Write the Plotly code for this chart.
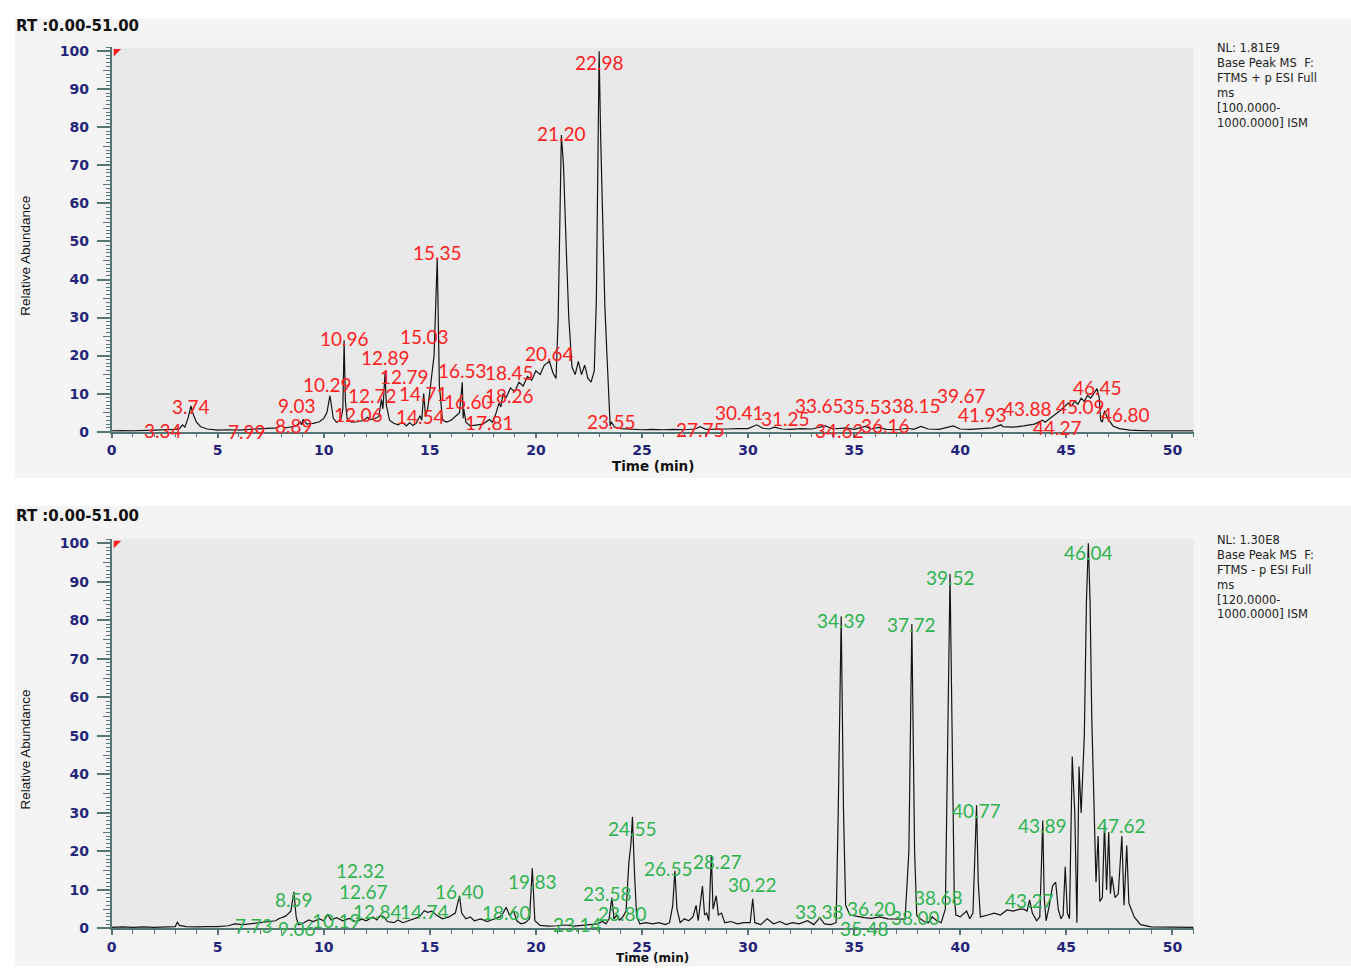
import plotly.graph_objects as go

# ---------------------------------------------------------------------------
# Base peak chromatograms (relative abundance vs retention time, minutes)
# ---------------------------------------------------------------------------

# Positive-mode ESI base peak chromatogram
pos_trace = [
    (0.0, 0.2), (0.5, 0.3), (1.0, 0.2), (1.5, 0.3), (2.0, 0.3), (2.5, 0.4),
    (3.0, 0.6), (3.2, 0.8), (3.34, 1.8), (3.45, 1.2), (3.6, 3.5), (3.74, 6.8),
    (3.85, 4.5), (4.0, 2.5), (4.2, 1.3), (4.5, 0.7), (5.0, 0.4), (5.5, 0.5),
    (6.0, 0.4), (6.5, 0.6), (7.0, 0.8), (7.5, 0.9), (7.8, 1.0), (7.99, 1.6),
    (8.2, 1.0), (8.5, 1.3), (8.7, 1.5), (8.89, 2.6), (8.95, 1.8), (9.03, 3.2),
    (9.2, 2.0), (9.5, 2.2), (9.8, 2.6), (10.0, 3.5), (10.15, 5.0), (10.29, 9.5),
    (10.45, 3.5), (10.6, 2.5), (10.8, 3.0), (10.9, 6.0), (10.96, 24.0), (11.02, 8.0),
    (11.1, 3.5), (11.3, 2.5), (11.6, 2.6), (11.9, 3.0), (12.06, 3.8), (12.2, 3.2),
    (12.4, 3.4), (12.6, 4.0), (12.72, 8.5), (12.79, 6.0), (12.89, 15.5), (12.95, 7.0),
    (13.1, 3.0), (13.3, 2.2), (13.5, 1.8), (13.7, 2.5), (13.9, 1.5), (14.05, 2.4),
    (14.2, 1.6), (14.35, 2.2), (14.54, 4.2), (14.62, 3.0), (14.71, 10.0), (14.8, 4.0),
    (14.9, 6.0), (15.03, 12.0), (15.2, 20.0), (15.35, 45.7), (15.45, 12.0), (15.6, 3.0),
    (15.8, 2.5), (16.0, 3.0), (16.2, 4.0), (16.4, 5.0), (16.53, 13.0), (16.57, 3.5),
    (16.6, 6.0), (16.7, 2.5), (16.9, 1.5), (17.2, 1.8), (17.5, 2.0), (17.81, 3.2),
    (17.95, 2.5), (18.1, 4.5), (18.26, 7.5), (18.35, 6.5), (18.45, 10.0), (18.6, 9.0),
    (18.8, 11.5), (19.0, 10.5), (19.2, 13.0), (19.4, 12.0), (19.6, 14.5), (19.8, 13.5),
    (20.0, 16.0), (20.2, 15.0), (20.4, 17.5), (20.64, 18.5), (20.8, 15.5), (20.95, 14.0),
    (21.05, 30.0), (21.2, 78.0), (21.3, 70.0), (21.45, 45.0), (21.55, 30.0), (21.7, 17.0),
    (21.85, 15.0), (22.0, 18.5), (22.15, 15.0), (22.3, 17.5), (22.45, 14.0), (22.6, 13.0),
    (22.75, 16.0), (22.85, 35.0), (22.98, 100.0), (23.05, 78.0), (23.15, 55.0), (23.25, 33.0),
    (23.35, 20.0), (23.45, 5.0), (23.5, 1.5), (23.55, 2.6), (23.7, 1.2), (24.0, 0.8),
    (24.5, 0.7), (25.0, 0.5), (25.5, 0.6), (26.0, 0.5), (26.5, 0.6), (27.0, 0.5),
    (27.5, 0.7), (27.75, 1.3), (28.0, 0.6), (28.5, 0.6), (29.0, 0.7), (29.5, 0.8),
    (30.0, 0.8), (30.41, 1.8), (30.7, 0.9), (31.0, 0.7), (31.25, 1.2), (31.6, 0.7),
    (32.0, 0.6), (32.5, 0.8), (33.0, 0.7), (33.65, 1.5), (34.0, 0.7), (34.62, 1.0),
    (35.0, 0.6), (35.53, 1.4), (35.8, 0.7), (36.16, 1.1), (36.5, 0.6), (37.0, 0.5),
    (37.53, 0.9), (37.8, 0.6), (38.15, 1.4), (38.5, 0.7), (39.0, 0.6), (39.67, 1.5),
    (40.0, 0.7), (40.5, 0.6), (41.0, 0.8), (41.5, 1.0), (41.93, 1.8), (42.01, 1.3),
    (42.5, 1.2), (43.0, 1.5), (43.5, 2.0), (43.88, 3.0), (44.0, 2.5), (44.27, 3.6),
    (44.5, 4.5), (44.7, 5.5), (44.9, 6.5), (45.09, 7.5), (45.25, 6.8), (45.4, 8.0),
    (45.55, 7.2), (45.7, 8.8), (45.85, 8.0), (46.0, 9.5), (46.15, 8.8), (46.3, 10.2),
    (46.45, 11.3), (46.55, 9.0), (46.62, 3.0), (46.7, 2.5), (46.8, 5.5), (46.95, 3.5),
    (47.2, 1.5), (47.5, 0.8), (48.0, 0.4), (48.5, 0.3), (49.0, 0.2), (50.0, 0.2),
    (51.0, 0.2),
]

# Negative-mode ESI base peak chromatogram
neg_trace = [
    (0.0, 0.3), (0.5, 0.4), (1.0, 0.3), (1.5, 0.4), (2.0, 0.3), (2.5, 0.4),
    (3.0, 0.5), (3.1, 1.6), (3.2, 0.8), (3.5, 0.5), (4.0, 0.4), (4.5, 0.5),
    (5.0, 0.5), (5.5, 0.7), (5.8, 1.2), (6.2, 1.0), (6.6, 1.3), (7.0, 1.5),
    (7.3, 1.8), (7.73, 2.0), (7.9, 2.6), (8.2, 3.2), (8.45, 4.5), (8.59, 9.5),
    (8.7, 3.0), (8.8, 1.0), (9.06, 1.5), (9.3, 2.2), (9.5, 1.8), (9.8, 2.5),
    (10.0, 2.0), (10.19, 3.6), (10.35, 2.2), (10.6, 2.8), (10.9, 2.0), (11.2, 2.6),
    (11.5, 1.8), (11.8, 2.4), (12.0, 2.0), (12.32, 3.0), (12.5, 2.2), (12.67, 3.4),
    (12.84, 3.0), (13.0, 1.8), (13.3, 1.5), (13.5, 2.2), (13.73, 1.5), (14.0, 2.0),
    (14.3, 2.5), (14.5, 3.0), (14.74, 4.6), (14.9, 4.2), (15.1, 4.5), (15.3, 3.5),
    (15.6, 2.5), (15.9, 3.0), (16.2, 4.0), (16.4, 8.5), (16.5, 4.0), (16.7, 2.5),
    (16.9, 3.0), (17.1, 2.0), (17.4, 2.5), (17.7, 1.8), (17.9, 2.2), (18.1, 2.5),
    (18.3, 3.0), (18.45, 4.0), (18.6, 5.5), (18.75, 3.5), (18.95, 4.5), (19.1, 2.0),
    (19.3, 1.2), (19.5, 1.5), (19.7, 2.5), (19.83, 15.6), (19.95, 2.0), (20.2, 0.8),
    (20.6, 0.6), (21.0, 0.7), (21.4, 0.9), (21.8, 0.6), (22.2, 0.8), (22.6, 1.0),
    (22.9, 1.2), (23.14, 1.8), (23.3, 1.2), (23.45, 2.5), (23.58, 8.0), (23.68, 2.5),
    (23.8, 3.4), (23.95, 2.2), (24.1, 3.0), (24.25, 4.5), (24.38, 17.0), (24.48, 22.0),
    (24.55, 29.0), (24.65, 14.0), (24.75, 3.0), (24.9, 1.2), (25.2, 1.5), (25.5, 1.2),
    (25.8, 1.5), (26.1, 1.0), (26.3, 1.5), (26.45, 6.0), (26.55, 15.0), (26.65, 5.0),
    (26.8, 1.5), (27.0, 2.5), (27.2, 2.0), (27.4, 3.0), (27.55, 6.0), (27.65, 2.0),
    (27.85, 11.0), (27.95, 3.5), (28.05, 4.0), (28.15, 2.0), (28.27, 19.0), (28.35, 5.0),
    (28.5, 8.5), (28.6, 3.5), (28.75, 4.0), (28.9, 1.5), (29.2, 1.8), (29.5, 1.2),
    (29.8, 1.5), (30.1, 1.5), (30.22, 7.7), (30.32, 1.5), (30.6, 1.0), (30.9, 2.5),
    (31.2, 1.2), (31.5, 1.8), (31.8, 1.0), (32.1, 1.5), (32.4, 1.2), (32.8, 2.0),
    (33.1, 1.0), (33.38, 2.8), (33.6, 1.2), (33.9, 1.0), (34.15, 1.5), (34.25, 30.0),
    (34.39, 81.0), (34.5, 30.0), (34.6, 6.0), (34.8, 3.5), (35.2, 3.0), (35.48, 2.8),
    (35.8, 2.6), (36.2, 3.0), (36.6, 2.5), (37.0, 2.5), (37.4, 2.4), (37.58, 20.0),
    (37.72, 79.0), (37.85, 20.0), (37.95, 3.5), (38.0, 3.0), (38.3, 1.8), (38.5, 1.5),
    (38.68, 3.0), (38.9, 2.0), (39.1, 1.5), (39.3, 5.0), (39.42, 50.0), (39.52, 92.0),
    (39.62, 50.0), (39.72, 8.0), (39.8, 3.5), (40.0, 3.0), (40.3, 4.5), (40.45, 2.5),
    (40.6, 4.0), (40.7, 20.0), (40.77, 32.0), (40.85, 12.0), (40.95, 3.0), (41.3, 3.5),
    (41.6, 4.0), (41.9, 3.5), (42.2, 4.8), (42.5, 4.5), (42.8, 5.0), (43.0, 5.0),
    (43.15, 4.5), (43.27, 7.4), (43.4, 4.0), (43.6, 2.0), (43.75, 3.0), (43.82, 15.0),
    (43.89, 28.0), (43.96, 8.0), (44.05, 2.0), (44.2, 6.0), (44.35, 11.0), (44.5, 12.0),
    (44.62, 5.0), (44.75, 2.5), (44.85, 3.5), (44.95, 16.0), (45.05, 4.0), (45.15, 2.5),
    (45.28, 44.6), (45.4, 30.0), (45.5, 1.5), (45.6, 42.0), (45.7, 30.0), (45.85, 50.0),
    (45.95, 85.0), (46.04, 100.0), (46.12, 85.0), (46.2, 55.0), (46.3, 30.0), (46.4, 12.0),
    (46.5, 24.0), (46.58, 7.0), (46.7, 8.0), (46.8, 27.0), (46.9, 10.0), (47.0, 25.0),
    (47.08, 9.0), (47.15, 13.5), (47.3, 8.0), (47.45, 9.0), (47.62, 24.0), (47.72, 6.0),
    (47.85, 21.5), (47.95, 6.6), (48.2, 3.0), (48.5, 1.0), (49.0, 0.4), (50.0, 0.3),
    (51.0, 0.3),
]

# Labelled retention times (min)
pos_peak_rt = [3.34, 3.74, 7.99, 8.89, 9.03, 10.29, 10.96, 12.06, 12.72, 12.79,
               12.89, 14.05, 14.54, 14.71, 15.03, 15.35, 16.53, 16.60, 17.81, 18.26,
               18.45, 20.64, 21.20, 22.98, 23.55, 27.75, 30.41, 31.25, 33.65, 34.62,
               35.53, 36.16, 37.53, 38.15, 39.67, 41.93, 42.01, 43.88, 44.27, 45.09,
               46.45, 46.80]
neg_peak_rt = [7.73, 8.59, 9.06, 10.19, 12.32, 12.67, 12.84, 13.73, 14.74, 16.40,
               18.60, 19.83, 23.14, 23.58, 23.80, 24.55, 26.55, 28.27, 30.22, 33.38,
               34.39, 35.48, 36.20, 37.72, 38.00, 38.68, 39.52, 40.77, 43.27, 43.89,
               46.04, 47.62]

# Scan headers shown beside each chromatogram
pos_header = ["NL: 1.81E9", "Base Peak MS  F:", "FTMS + p ESI Full", "ms",
              "[100.0000-", "1000.0000] ISM"]
neg_header = ["NL: 1.30E8", "Base Peak MS  F:", "FTMS - p ESI Full", "ms",
              "[120.0000-", "1000.0000] ISM"]

x_ticks = list(range(0, 51, 5))
y_ticks = list(range(0, 101, 10))
y_mid_ticks = list(range(5, 100, 10))

# ---------------------------------------------------------------------------
# Label placement: vertical level (% units) and small sideways nudge (min)
# used to keep crowded retention-time labels readable.
# ---------------------------------------------------------------------------
pos_label_level = [0.3, 6.5, 0.0, 1.5, 7.0, 12.5, 24.5, 4.5, 9.5, 14.5,
                   19.5, -0.5, 4.0, 10.0, 25.0, 47.0, 16.0, 8.0, 2.5, 9.5,
                   15.5, 20.5, 78.4, 97.0, 2.6, 0.5, 5.0, 3.4, 7.0, 0.3,
                   6.5, 1.5, -0.5, 7.0, 9.6, 4.5, -0.5, 6.0, 1.0, 6.5,
                   11.5, 4.5]
pos_label_nudge = [-0.9, 0.0, -1.6, -0.3, -0.3, -0.1, 0.0, -0.4, -0.4, 1.0,
                   0.0, -0.6, 0.0, 0.0, -0.3, 0.0, 0.0, 0.2, 0.0, 0.5,
                   0.3, 0.0, 0.0, 0.0, 0.0, 0.0, -0.8, 0.5, -0.3, -0.3,
                   0.1, 0.3, 0.6, -0.2, 0.4, -0.9, 0.3, -0.7, 0.3, 0.6,
                   0.0, 1.0]
neg_label_level = [0.8, 7.4, 0.0, 2.0, 15.0, 9.5, 4.5, -0.5, 4.5, 9.5,
                   4.1, 12.3, 1.0, 9.0, 4.0, 26.0, 15.6, 17.4, 11.3, 4.4,
                   80.0, 0.0, 5.2, 79.0, 2.8, 8.0, 91.0, 30.5, 7.2, 26.7,
                   97.7, 26.7]
neg_label_nudge = [-1.0, 0.0, -0.3, 0.4, -0.6, -0.8, -0.3, 0.3, 0.0, 0.0,
                   0.0, 0.0, -1.2, -0.2, 0.3, 0.0, -0.3, 0.3, 0.0, 0.0,
                   0.0, 0.0, -0.4, 0.0, -0.1, 0.3, 0.0, 0.0, 0.0, 0.0,
                   0.0, 0.0]

W, H = 1351, 974
AXIS_COL = "#557474"
TICK_FONT = dict(family="DejaVu Sans", size=14, color="#24247a", weight="bold")
LABEL_FONT = "Lato, Open Sans, sans-serif"


def fx(p):
    return p / W


def fy(p):
    return 1 - p / H


fig = go.Figure()

pt, pa = zip(*pos_trace)
nt, na = zip(*neg_trace)
fig.add_trace(go.Scatter(x=pt, y=pa, mode="lines", xaxis="x", yaxis="y",
                         line=dict(color="#141414", width=1.2), hoverinfo="skip",
                         showlegend=False))
fig.add_trace(go.Scatter(x=nt, y=na, mode="lines", xaxis="x2", yaxis="y2",
                         line=dict(color="#141414", width=1.2), hoverinfo="skip",
                         showlegend=False))
# empty traces that carry the medium (every 5 %) tick axes
fig.add_trace(go.Scatter(x=[], y=[], xaxis="x", yaxis="y3", showlegend=False))
fig.add_trace(go.Scatter(x=[], y=[], xaxis="x2", yaxis="y4", showlegend=False))

x_dom = [fx(107), fx(1193)]
top_dom = [fy(433), fy(44)]
bot_dom = [fy(936), fy(542)]


def x_axis(anchor):
    return dict(domain=x_dom, anchor=anchor, range=[0, 51], showline=True,
                linecolor=AXIS_COL, linewidth=1.5, ticks="outside",
                tickvals=x_ticks, ticklen=5, tickwidth=1.5, tickcolor=AXIS_COL,
                minor=dict(dtick=1, tick0=0, ticks="outside", ticklen=4,
                           tickwidth=1, tickcolor=AXIS_COL, showgrid=False),
                showgrid=False, zeroline=False, tickfont=TICK_FONT,
                ticklabelstandoff=0)


def y_axis(anchor, dom):
    return dict(domain=dom, anchor=anchor, range=[0, 101], showline=True,
                linecolor=AXIS_COL, linewidth=1.5, ticks="outside",
                tickvals=y_ticks, ticklen=13, tickwidth=1.5, tickcolor=AXIS_COL,
                minor=dict(dtick=1, tick0=0, ticks="outside", ticklen=4,
                           tickwidth=1, tickcolor=AXIS_COL, showgrid=False),
                showgrid=False, zeroline=False, tickfont=TICK_FONT,
                ticklabelstandoff=5)


def y_mid_axis(base, anchor):
    return dict(overlaying=base, anchor=anchor, side="left", range=[0, 101],
                tickvals=y_mid_ticks, ticks="outside", ticklen=8, tickwidth=1.2,
                tickcolor=AXIS_COL, showticklabels=False, showline=False,
                showgrid=False, zeroline=False)


shapes = [
    # panel backgrounds
    dict(type="rect", xref="paper", yref="paper", x0=fx(10), x1=1,
         y0=fy(480), y1=fy(15), fillcolor="#f4f4f4", line_width=0, layer="below"),
    dict(type="rect", xref="paper", yref="paper", x0=fx(10), x1=1,
         y0=fy(974), y1=fy(508), fillcolor="#f4f4f4", line_width=0, layer="below"),
    # plotting areas
    dict(type="rect", xref="x domain", yref="y domain", x0=0, x1=1, y0=0, y1=1,
         fillcolor="#e9e9e9", line_width=0, layer="below"),
    dict(type="rect", xref="x2 domain", yref="y2 domain", x0=0, x1=1, y0=0, y1=1,
         fillcolor="#e9e9e9", line_width=0, layer="below"),
    # red scale-marker flags at the top of each abundance axis
    dict(type="path", xref="x", yref="y", path="M 0.1,100.6 L 0.45,100.6 L 0.1,98.6 Z",
         fillcolor="#ff2020", line_width=0),
    dict(type="path", xref="x2", yref="y2", path="M 0.1,100.6 L 0.45,100.6 L 0.1,98.6 Z",
         fillcolor="#ff2020", line_width=0),
]

annotations = []
for y_px in (22, 518):
    annotations.append(dict(text="RT :0.00-51.00", xref="paper", yref="paper",
                            x=fx(9), y=fy(y_px), xanchor="left", yanchor="middle",
                            showarrow=False,
                            font=dict(family="DejaVu Sans", size=15, color="#111",
                                      weight="bold")))
for y_px in (255, 755):
    annotations.append(dict(text="Relative Abundance", xref="paper", yref="paper",
                            x=fx(21), y=fy(y_px), xanchor="center", yanchor="middle",
                            textangle=-90, showarrow=False,
                            font=dict(family="Liberation Sans Narrow, Liberation Sans",
                                      size=13.5, color="#111")))
# axis titles; the lower one sits at the very bottom edge of the page
annotations.append(dict(text="Time (min)", xref="paper", yref="paper",
                        x=fx(650), y=fy(468), xanchor="center", yanchor="middle",
                        showarrow=False,
                        font=dict(family="DejaVu Sans", size=13.5, color="#111",
                                  weight="bold")))
annotations.append(dict(text="Time (min)", xref="paper", yref="paper",
                        x=fx(650), y=0, xanchor="center", yanchor="bottom",
                        showarrow=False, borderpad=0,
                        font=dict(family="DejaVu Sans", size=12, color="#111",
                                  weight="bold")))
for header, top_px in ((pos_header, 45), (neg_header, 543)):
    for i, line in enumerate(header):
        annotations.append(dict(text=line, xref="paper", yref="paper",
                                x=fx(1214), y=fy(top_px + 15 * i), xanchor="left",
                                yanchor="middle", showarrow=False,
                                font=dict(family="DejaVu Sans", size=11.5,
                                          color="#222")))

for rts, levels, nudges, xr, yr, col in (
        (pos_peak_rt, pos_label_level, pos_label_nudge, "x", "y", "#ff2121"),
        (neg_peak_rt, neg_label_level, neg_label_nudge, "x2", "y2", "#2fb350")):
    for rt, lvl, dx in zip(rts, levels, nudges):
        annotations.append(dict(text=f"{rt:.2f}", xref=xr, yref=yr, x=rt + dx, y=lvl,
                                xanchor="center", yanchor="middle", showarrow=False,
                                font=dict(family=LABEL_FONT, size=19, color=col)))

fig.update_layout(
    width=W, height=H, margin=dict(l=0, r=0, t=0, b=0),
    paper_bgcolor="white", plot_bgcolor="rgba(0,0,0,0)",
    xaxis=x_axis("y"), yaxis=y_axis("x", top_dom),
    xaxis2=x_axis("y2"), yaxis2=y_axis("x2", bot_dom),
    yaxis3=y_mid_axis("y", "x"), yaxis4=y_mid_axis("y2", "x2"),
    shapes=shapes, annotations=annotations, showlegend=False,
)

fig.write_html("out.html")
